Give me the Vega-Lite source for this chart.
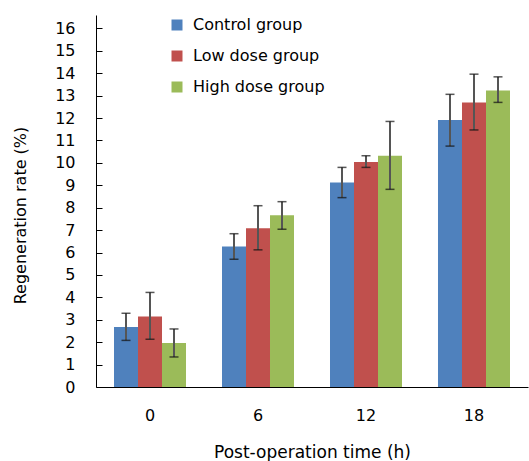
{
  "$schema": "https://vega.github.io/schema/vega-lite/v6.json",
  "width": 432,
  "height": 372,
  "autosize": {"type": "none"},
  "padding": {"left": 96, "top": 15, "right": 1, "bottom": 74},
  "config": {
    "view": {"stroke": null},
    "font": "DejaVu Sans",
    "axis": {
      "grid": false,
      "domainColor": "#000",
      "domainWidth": 1,
      "tickColor": "#000",
      "labelColor": "#000",
      "titleColor": "#000",
      "labelFont": "DejaVu Sans",
      "titleFont": "DejaVu Sans",
      "titleFontWeight": "normal"
    },
    "legend": {"labelFont": "DejaVu Sans", "labelColor": "#000"}
  },
  "data": {
    "values": [
      {"time": "0", "group": "Control group", "value": 2.68, "lo": 2.08, "hi": 3.29},
      {"time": "0", "group": "Low dose group", "value": 3.15, "lo": 2.13, "hi": 4.22},
      {"time": "0", "group": "High dose group", "value": 1.96, "lo": 1.34, "hi": 2.59},
      {"time": "6", "group": "Control group", "value": 6.27, "lo": 5.7, "hi": 6.84},
      {"time": "6", "group": "Low dose group", "value": 7.08, "lo": 6.12, "hi": 8.09},
      {"time": "6", "group": "High dose group", "value": 7.66, "lo": 7.04, "hi": 8.27},
      {"time": "12", "group": "Control group", "value": 9.13, "lo": 8.45, "hi": 9.8},
      {"time": "12", "group": "Low dose group", "value": 10.04, "lo": 9.8, "hi": 10.32},
      {"time": "12", "group": "High dose group", "value": 10.32, "lo": 8.82, "hi": 11.85},
      {"time": "18", "group": "Control group", "value": 11.91, "lo": 10.75, "hi": 13.06},
      {"time": "18", "group": "Low dose group", "value": 12.7, "lo": 11.47, "hi": 13.96},
      {"time": "18", "group": "High dose group", "value": 13.23, "lo": 12.7, "hi": 13.84}
    ]
  },
  "encoding": {
    "x": {
      "field": "time",
      "type": "ordinal",
      "sort": ["0", "6", "12", "18"],
      "scale": {"paddingInner": 0.3333, "paddingOuter": 0.1667},
      "axis": {
        "title": "Post-operation time (h)",
        "labelAngle": 0,
        "ticks": false,
        "labelFontSize": 16,
        "labelPadding": 20,
        "titleFontSize": 17,
        "titlePadding": 21
      }
    },
    "xOffset": {
      "field": "group",
      "sort": ["Control group", "Low dose group", "High dose group"],
      "scale": {"paddingInner": 0, "paddingOuter": 0}
    }
  },
  "layer": [
    {
      "mark": {"type": "bar", "width": {"band": 1}},
      "encoding": {
        "y": {
          "field": "value",
          "type": "quantitative",
          "scale": {"domain": [0, 16.6], "nice": false},
          "axis": {
            "title": "Regeneration rate (%)",
            "values": [0, 1, 2, 3, 4, 5, 6, 7, 8, 9, 10, 11, 12, 13, 14, 15, 16],
            "tickCount": 17,
            "labelOverlap": false,
            "tickSize": -6,
            "labelFontSize": 16,
            "labelPadding": 27,
            "titleFontSize": 16,
            "titleX": -68,
            "titleY": 200
          }
        },
        "color": {
          "field": "group",
          "type": "nominal",
          "sort": ["Control group", "Low dose group", "High dose group"],
          "scale": {
            "domain": ["Control group", "Low dose group", "High dose group"],
            "range": ["#4F81BD", "#C0504D", "#9BBB59"]
          },
          "legend": {
            "title": null,
            "orient": "none",
            "legendX": 73,
            "legendY": 2,
            "symbolType": "square",
            "symbolSize": 121,
            "symbolStrokeWidth": 0,
            "labelFontSize": 16,
            "labelOffset": 8,
            "rowPadding": 15
          }
        }
      }
    },
    {
      "mark": {"type": "rule", "color": "#555555", "strokeWidth": 2},
      "encoding": {
        "y": {
          "field": "lo",
          "type": "quantitative",
          "axis": {
            "title": "Regeneration rate (%)",
            "values": [0, 1, 2, 3, 4, 5, 6, 7, 8, 9, 10, 11, 12, 13, 14, 15, 16],
            "tickCount": 17,
            "labelOverlap": false,
            "tickSize": -6,
            "labelFontSize": 16,
            "labelPadding": 27,
            "titleFontSize": 16,
            "titleX": -68,
            "titleY": 200
          }
        },
        "y2": {"field": "hi"}
      }
    },
    {
      "mark": {"type": "tick", "orient": "horizontal", "color": "#111111", "size": 9, "thickness": 1.5},
      "encoding": {
        "y": {
          "field": "lo",
          "type": "quantitative",
          "axis": {
            "title": "Regeneration rate (%)",
            "values": [0, 1, 2, 3, 4, 5, 6, 7, 8, 9, 10, 11, 12, 13, 14, 15, 16],
            "tickCount": 17,
            "labelOverlap": false,
            "tickSize": -6,
            "labelFontSize": 16,
            "labelPadding": 27,
            "titleFontSize": 16,
            "titleX": -68,
            "titleY": 200
          }
        }
      }
    },
    {
      "mark": {"type": "tick", "orient": "horizontal", "color": "#111111", "size": 9, "thickness": 1.5},
      "encoding": {
        "y": {
          "field": "hi",
          "type": "quantitative",
          "axis": {
            "title": "Regeneration rate (%)",
            "values": [0, 1, 2, 3, 4, 5, 6, 7, 8, 9, 10, 11, 12, 13, 14, 15, 16],
            "tickCount": 17,
            "labelOverlap": false,
            "tickSize": -6,
            "labelFontSize": 16,
            "labelPadding": 27,
            "titleFontSize": 16,
            "titleX": -68,
            "titleY": 200
          }
        }
      }
    }
  ]
}
